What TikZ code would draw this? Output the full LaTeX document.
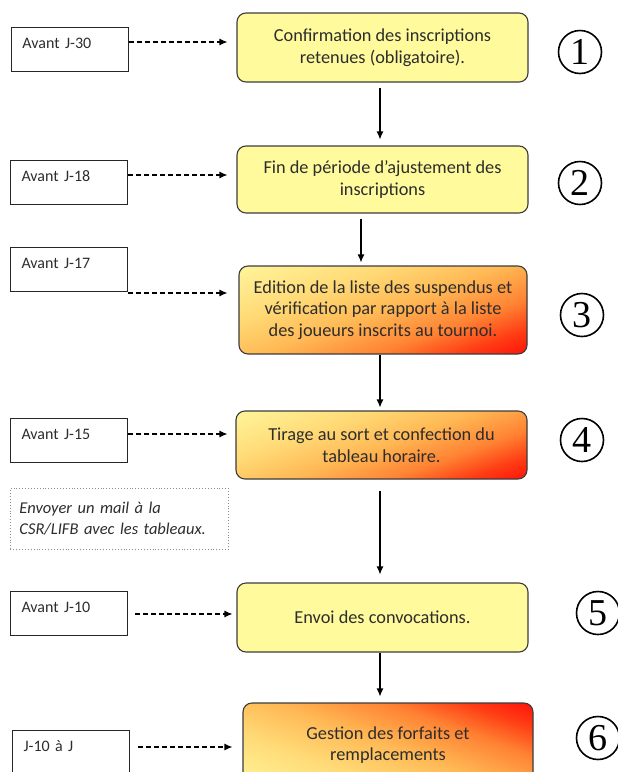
\documentclass[tikz,border=0pt]{standalone}
\usepackage{fontspec}
\setmainfont{Carlito}
\newfontfamily\numfont{Liberation Serif}
\usetikzlibrary{arrows.meta}
\definecolor{yel}{RGB}{255,250,155}
\definecolor{boxline}{RGB}{60,60,60}
\definecolor{txt}{RGB}{45,45,45}
\definecolor{os1}{RGB}{255,20,10}
\definecolor{os2}{RGB}{255,60,20}
\definecolor{os3}{RGB}{255,130,50}
\definecolor{os4}{RGB}{255,185,85}
\definecolor{os5}{RGB}{255,218,118}
\definecolor{os6}{RGB}{255,242,150}
\pgfdeclareverticalshading{orsh}{100bp}{color(0bp)=(os1); color(18bp)=(os1); color(26bp)=(os2); color(36bp)=(os3); color(50bp)=(os4); color(64bp)=(os5); color(80bp)=(os6); color(100bp)=(os6)}
\tikzset{
  mainbox/.style={draw=boxline, rounded corners=9pt, line width=1.1pt, align=center,
    text=txt, font=\fontsize{18.3}{21.5}\selectfont, inner sep=0pt},
  yelbox/.style={mainbox, fill=yel},
  orbox/.style={mainbox, shading=orsh, shading angle=20},
  orboxb/.style={mainbox, shading=orsh, shading angle=160},
  datebox/.style={draw=black!85, line width=1pt, anchor=north west, text width=95pt,
    align=left, inner xsep=11pt, inner ysep=1pt, text height=20pt, text depth=22pt,
    font=\fontsize{16}{18}\selectfont, text=txt},
  notebox/.style={draw=black!45, dotted, line width=0.9pt, anchor=north west, text width=200pt,
    align=left, inner xsep=9pt, minimum height=61pt, font=\fontsize{16.5}{21}\selectfont\itshape, text=txt},
  numc/.style={draw=black, circle, line width=1.6pt, minimum size=43pt, inner sep=0pt,
    font=\numfont\fontsize{38}{38}\selectfont},
  dasharr/.style={dashed, dash pattern=on 5pt off 3pt, line width=1.1pt, -{Latex[length=8pt,width=7pt]}},
  solarr/.style={line width=1.1pt, -{Latex[length=8pt,width=7pt]}}
}
\begin{document}
\begin{tikzpicture}[x=1pt,y=-1pt]
\clip (0,0) rectangle (618,772);
\fill[white] (0,0) rectangle (618,772);
% main boxes
\node[yelbox, minimum width=291pt, minimum height=69pt] (b1) at (382.5,47.5) {Confirmation des inscriptions\\retenues (obligatoire).};
\node[yelbox, minimum width=291pt, minimum height=67pt] (b2) at (382.5,179.5) {Fin de période d’ajustement des\\inscriptions};
\node[orbox, minimum width=288pt, minimum height=88pt] (b3) at (383,310) {Edition de la liste des suspendus et\\vérification par rapport à la liste\\des joueurs inscrits au tournoi.};
\node[orbox, minimum width=291pt, minimum height=68pt] (b4) at (381.5,445) {Tirage au sort et confection du\\tableau horaire.};
\node[yelbox, minimum width=291pt, minimum height=69pt] (b5) at (382.5,617.5) {Envoi des convocations.};
\node[orboxb, minimum width=290pt, minimum height=84pt] (b6) at (388,745) {Gestion des forfaits et\\remplacements};
% date boxes
\node[datebox] (d1) at (11,27) {Avant J-30};
\node[datebox] (d2) at (10,160) {Avant J-18};
\node[datebox] (d3) at (10,247) {Avant J-17};
\node[datebox] (d4) at (10,418) {Avant J-15};
\node[datebox] (d5) at (10,591) {Avant J-10};
\node[datebox] (d6) at (12,730) {J-10 à J};
% note
\node[notebox] (n1) at (10,488) {Envoyer un mail à la\\CSR/LIFB avec les tableaux.};
% numbers
\node[numc] (c1) at (580,52) {1};
\node[numc] (c2) at (580,183) {2};
\node[numc] (c3) at (582,315) {3};
\node[numc] (c4) at (582,440) {4};
\node[numc] (c5) at (598,613) {5};
\node[numc] (c6) at (598,738) {6};
% helper coordinates
\coordinate (y1) at (0,42);
\coordinate (y2) at (0,175);
\coordinate (y3) at (0,293);
\coordinate (y4) at (0,434);
\coordinate (y5) at (0,614);
\coordinate (y6) at (0,747);
\coordinate (xa) at (380,0);
\coordinate (xb) at (361,0);
% dashed arrows
\draw[dasharr, shorten >=9pt] (d1.east |- y1) -- (b1.west |- y1);
\draw[dasharr, shorten >=9pt] (d2.east |- y2) -- (b2.west |- y2);
\draw[dasharr, shorten >=11pt] (d3.east |- y3) -- (b3.west |- y3);
\draw[dasharr, shorten >=8pt] (d4.east |- y4) -- (b4.west |- y4);
\draw[dasharr, shorten <=7pt, shorten >=4pt] (d5.east |- y5) -- (b5.west |- y5);
\draw[dasharr, shorten <=8pt, shorten >=10pt] (d6.east |- y6) -- (b6.west |- y6);
% solid arrows
\draw[solarr, shorten <=5pt, shorten >=6pt] (b1.south -| xa) -- (b2.north -| xa);
\draw[solarr, shorten <=5pt, shorten >=3pt] (b2.south -| xb) -- (b3.north -| xb);
\draw[solarr, shorten >=3pt] (b3.south -| xa) -- (b4.north -| xa);
\draw[solarr, shorten <=11pt, shorten >=8pt] (b4.south -| xa) -- (b5.north -| xa);
\draw[solarr, shorten >=6pt] (b5.south -| xa) -- (b6.north -| xa);
\end{tikzpicture}
\end{document}
